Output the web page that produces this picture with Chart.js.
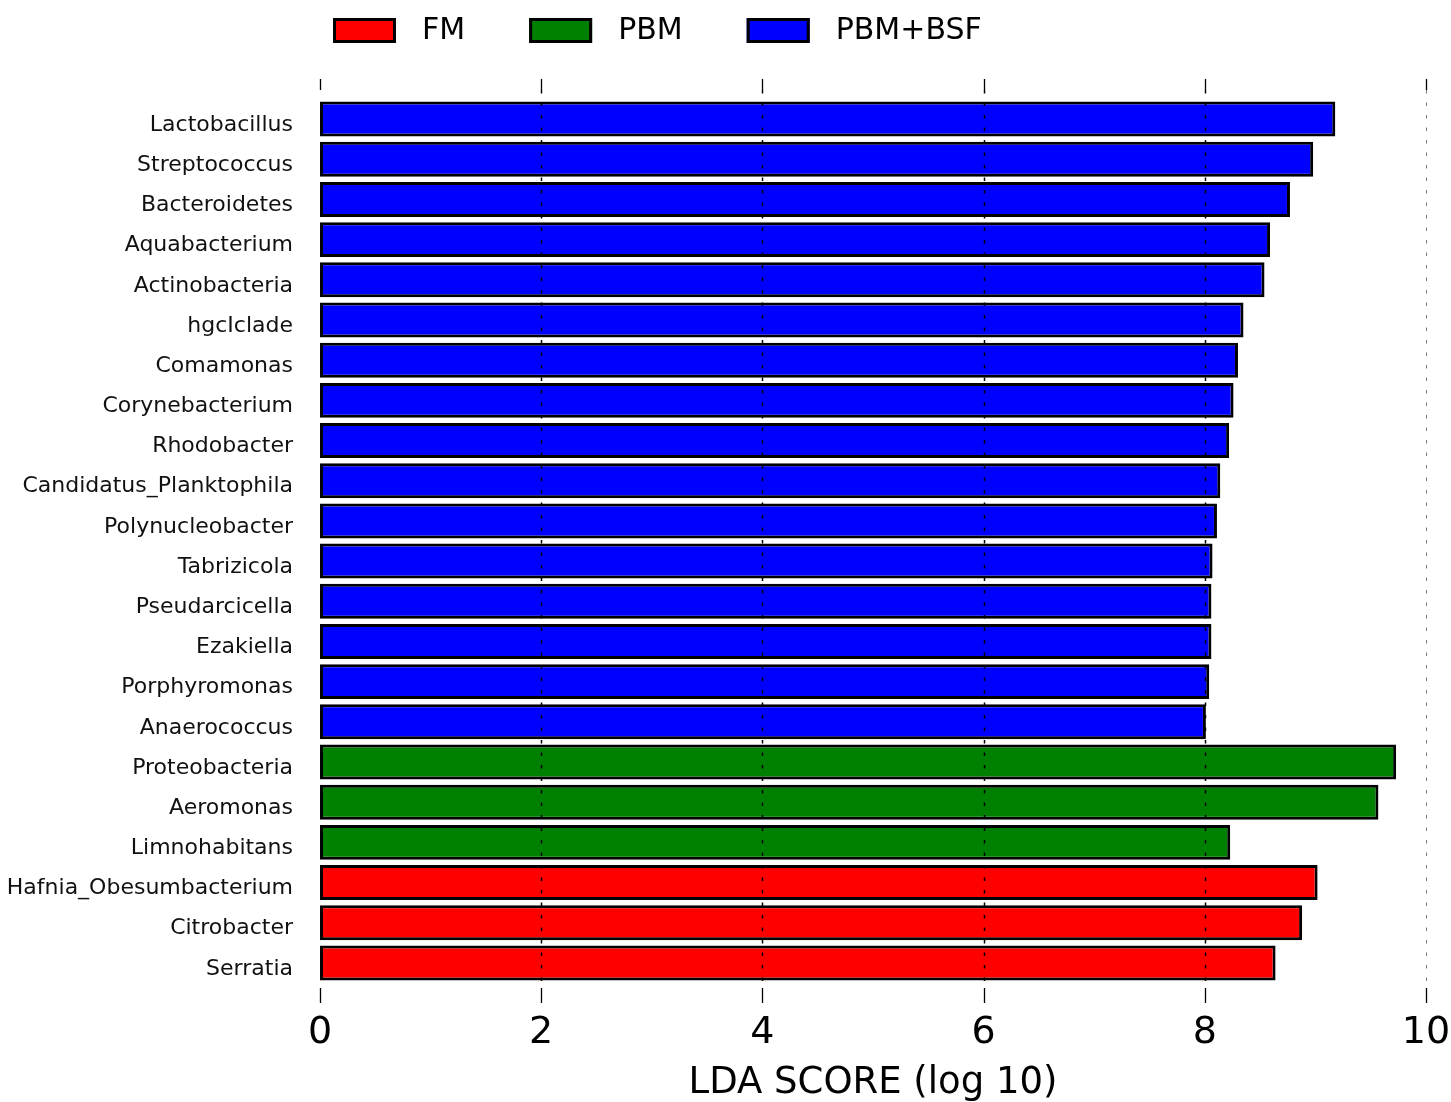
<!DOCTYPE html>
<html>
<head>
<meta charset="utf-8">
<script src="https://cdn.jsdelivr.net/npm/chart.js@4.4.1/dist/chart.umd.min.js"></script>
<style>
    body { margin: 0; background: #fff; }
    #contenedor { width: 1451px; height: 1102px; }
</style>
</head>
<body>
<div id="contenedor"><canvas id="lefse"></canvas></div>
<script>
//Datos del gráfico
const categorias = [
    'Lactobacillus', 'Streptococcus', 'Bacteroidetes', 'Aquabacterium', 'Actinobacteria',
    'hgcIclade', 'Comamonas', 'Corynebacterium', 'Rhodobacter', 'Candidatus_Planktophila',
    'Polynucleobacter', 'Tabrizicola', 'Pseudarcicella', 'Ezakiella', 'Porphyromonas',
    'Anaerococcus', 'Proteobacteria', 'Aeromonas', 'Limnohabitans',
    'Hafnia_Obesumbacterium', 'Citrobacter', 'Serratia'
];
const puntuaciones = [
    9.18, 8.98, 8.77, 8.59, 8.54,
    8.35, 8.30, 8.26, 8.22, 8.14,
    8.11, 8.07, 8.06, 8.06, 8.04,
    8.01, 9.73, 9.57, 8.23,
    9.02, 8.88, 8.64
];
const grupos = [
    'PBM+BSF', 'PBM+BSF', 'PBM+BSF', 'PBM+BSF', 'PBM+BSF',
    'PBM+BSF', 'PBM+BSF', 'PBM+BSF', 'PBM+BSF', 'PBM+BSF',
    'PBM+BSF', 'PBM+BSF', 'PBM+BSF', 'PBM+BSF', 'PBM+BSF',
    'PBM+BSF', 'PBM', 'PBM', 'PBM',
    'FM', 'FM', 'FM'
];
const nombresGrupos = ['FM', 'PBM', 'PBM+BSF'];
const coloresGrupos = ['#ff0000', '#008000', '#0000ff'];
const ticksX = [0, 2, 4, 6, 8, 10];

const colorDe = g => coloresGrupos[nombresGrupos.indexOf(g)];

/**
 * Plugin que dibuja la rejilla discontinua encima de las barras y las marcas arriba/abajo
 */
const rejilla = {
    id: 'rejilla',
    afterDatasetsDraw(chart) {
        const { ctx, chartArea, scales } = chart;
        ctx.save();
        ticksX.forEach(v => {
            const x = Math.round(scales.x.getPixelForValue(v)) + 0.5;
            //marcas
            ctx.strokeStyle = '#000';
            ctx.lineWidth = 1.3;
            ctx.setLineDash([]);
            ctx.beginPath();
            ctx.moveTo(x, chartArea.top - 20);
            ctx.lineTo(x, chartArea.top - 9);
            ctx.moveTo(x, chartArea.bottom + 5);
            ctx.lineTo(x, chartArea.bottom + 20);
            ctx.stroke();
            if (v === 0) return;
            //línea discontinua
            ctx.strokeStyle = v === 10 ? '#777' : '#000';
            ctx.lineWidth = v === 10 ? 1 : 1.5;
            ctx.setLineDash([3.5, 9]);
            ctx.beginPath();
            ctx.moveTo(x, chartArea.top - 9);
            ctx.lineTo(x, chartArea.bottom + 3);
            ctx.stroke();
        });
        ctx.restore();
    }
};

/**
 * Plugin de leyenda superior
 */
const leyenda = {
    id: 'leyenda',
    afterDraw(chart) {
        const ctx = chart.ctx;
        ctx.save();
        ctx.font = '30px "DejaVu Sans"';
        ctx.textBaseline = 'middle';
        let x = 333;
        nombresGrupos.forEach((nombre, i) => {
            ctx.fillStyle = coloresGrupos[i];
            ctx.fillRect(x, 18, 63, 25);
            ctx.strokeStyle = '#000';
            ctx.lineWidth = 3;
            ctx.strokeRect(x + 1.5, 19.5, 60, 22);
            ctx.fillStyle = '#000';
            ctx.fillText(nombre, x + 89, 31);
            x += 89 + ctx.measureText(nombre).width + 64;
        });
        ctx.restore();
    }
};

const lienzo = document.getElementById('lefse').getContext('2d');

new Chart(lienzo, {
    type: 'bar',
    data: {
        labels: categorias,
        datasets: [{
            data: puntuaciones,
            backgroundColor: grupos.map(colorDe),
            borderColor: '#000',
            borderWidth: 3,
            borderSkipped: false,
            barPercentage: 0.87,
            categoryPercentage: 1
        }]
    },
    options: {
        indexAxis: 'y',
        responsive: true,
        maintainAspectRatio: false,
        animation: false,
        layout: { padding: { top: 99, right: 0, left: 0, bottom: 0 } },
        plugins: {
            legend: { display: false },
            tooltip: { enabled: false }
        },
        scales: {
            x: {
                min: 0,
                max: 10,
                afterBuildTicks: s => { s.ticks = ticksX.map(v => ({ value: v })); },
                afterFit: s => { s.height = 119; s.paddingRight = 25; },
                grid: { display: false },
                border: { display: false },
                ticks: {
                    padding: 19,
                    color: '#000',
                    font: { family: 'DejaVu Sans', size: 38 }
                },
                title: {
                    display: true,
                    text: 'LDA SCORE (log 10)',
                    color: '#000',
                    padding: 0,
                    font: { family: 'DejaVu Sans', size: 37, lineHeight: 1 }
                }
            },
            y: {
                afterFit: s => { s.width = 320; },
                grid: { display: false, drawTicks: false },
                border: { display: false },
                ticks: {
                    padding: 27,
                    labelOffset: 6,
                    color: '#111',
                    font: { family: 'DejaVu Sans', size: 22 }
                }
            }
        }
    },
    plugins: [rejilla, leyenda]
});
</script>
</body>
</html>
